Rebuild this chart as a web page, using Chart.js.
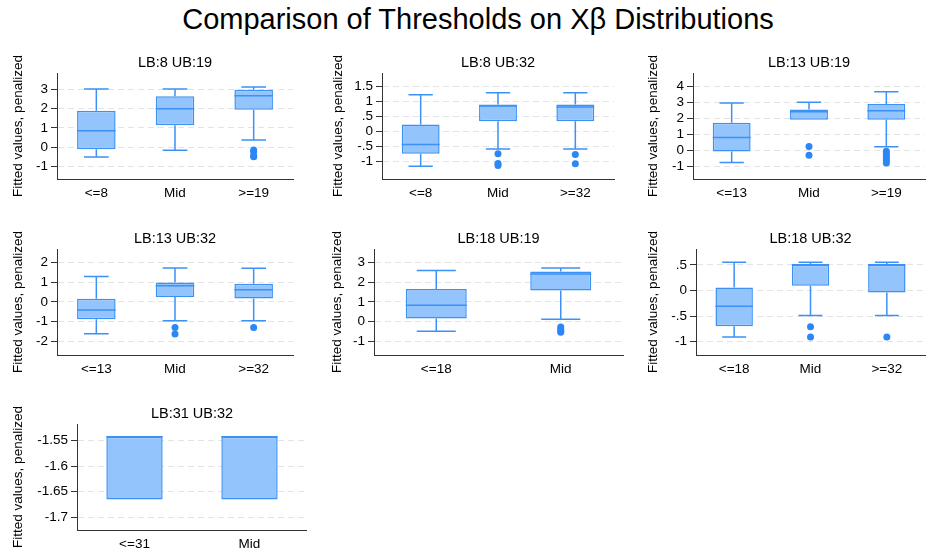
<!DOCTYPE html>
<html>
<head>
<meta charset="utf-8">
<script src="https://cdn.jsdelivr.net/npm/chart.js@4.4.1/dist/chart.umd.min.js"></script>
<style>
  html, body { margin: 0; padding: 0; background: #fff; }
  #page { position: relative; width: 929px; height: 552px; overflow: hidden;
          font-family: "Liberation Sans", Arial, sans-serif; }
  #mainTitle { position: absolute; left: 28px; top: 3px; width: 900px; text-align: center;
               font-size: 29px; color: #000; white-space: nowrap; }
  .panel { position: absolute; }
</style>
</head>
<body>
<div id="page">
  <div id="mainTitle">Comparison of Thresholds on Xβ Distributions</div>
</div>
<script>
// Box-plot summaries, one entry per panel
const panelTitles = ["LB:8 UB:19", "LB:8 UB:32", "LB:13 UB:19",
                     "LB:13 UB:32", "LB:18 UB:19", "LB:18 UB:32", "LB:31 UB:32"];
const categories = [
  ["<=8", "Mid", ">=19"], ["<=8", "Mid", ">=32"], ["<=13", "Mid", ">=19"],
  ["<=13", "Mid", ">=32"], ["<=18", "Mid"], ["<=18", "Mid", ">=32"], ["<=31", "Mid"]
];
const whiskerLow = [
  [-0.52, -0.17, 0.37], [-1.17, -0.59, -0.59], [-0.77, 1.92, 0.22],
  [-1.62, -0.96, -0.96], [-0.49, 0.12], [-0.91, -0.49, -0.49], [-1.665, -1.665]
];
const quartile1 = [
  [-0.12, 1.13, 1.94], [-0.75, 0.34, 0.34], [-0.08, 1.92, 1.92],
  [-0.88, 0.24, 0.17], [0.15, 1.58], [-0.70, 0.09, -0.04], [-1.665, -1.665]
];
const medians = [
  [0.85, 1.99, 2.67], [-0.44, 0.85, 0.82], [0.81, 2.42, 2.49],
  [-0.42, 0.82, 0.61], [0.83, 2.41], [-0.31, 0.5, 0.5], [-1.543, -1.543]
];
const quartile3 = [
  [1.89, 2.64, 2.98], [0.23, 0.90, 0.90], [1.73, 2.57, 2.91],
  [0.15, 0.98, 0.92], [1.65, 2.54], [0.06, 0.5, 0.5], [-1.543, -1.543]
];
const whiskerHigh = [
  [3.02, 3.02, 3.12], [1.23, 1.30, 1.30], [2.97, 3.03, 3.68],
  [1.29, 1.71, 1.70], [2.59, 2.72], [0.55, 0.55, 0.55], [-1.543, -1.543]
];
const outliers = [
  [[], [], [-0.15, -0.25, -0.45, -0.5]],
  [[], [-0.75, -1.08, -1.15], [-0.78, -1.09]],
  [[], [0.24, -0.3], [-0.05, -0.2, -0.35, -0.5, -0.65, -0.8]],
  [[], [-1.3, -1.63], [-1.3]],
  [[], [-0.28, -0.38, -0.48, -0.55]],
  [[], [-0.71, -0.91], [-0.91]],
  [[], []]
];
const yTicks = [
  [-1, 0, 1, 2, 3], [-1, -0.5, 0, 0.5, 1, 1.5], [-1, 0, 1, 2, 3, 4],
  [-2, -1, 0, 1, 2], [-1, 0, 1, 2, 3], [-1, -0.5, 0, 0.5], [-1.7, -1.65, -1.6, -1.55]
];
const yRanges = [
  [-1.66, 3.85], [-1.6, 1.96], [-1.8, 4.86],
  [-2.7, 2.68], [-1.7, 3.68], [-1.26, 0.81], [-1.7245, -1.518]
];

// Where each panel sits on the page (left edge, plot area edges)
const frames = [
  { left: 10,  plotLeft: 57,  plotRight: 297, plotTop: 73,  plotBottom: 179 },
  { left: 330, plotLeft: 382, plotRight: 618, plotTop: 73,  plotBottom: 179 },
  { left: 645, plotLeft: 693, plotRight: 929, plotTop: 73,  plotBottom: 179 },
  { left: 10,  plotLeft: 57,  plotRight: 297, plotTop: 249, plotBottom: 355 },
  { left: 329, plotLeft: 374, plotRight: 627, plotTop: 249, plotBottom: 355 },
  { left: 645, plotLeft: 696, plotRight: 929, plotTop: 249, plotBottom: 355 },
  { left: 10,  plotLeft: 77,  plotRight: 307, plotTop: 424, plotBottom: 530 }
];

const FONT = "'Liberation Sans', Arial, sans-serif";
const boxFill = "#93c4fc";
const boxLine = "#3b91f6";
const dotColor = "#2b87f5";
const axisColor = "#333333";
const TOP_SPACE = 28;
const X_AXIS_H = 26;

// Stata style numbers: drop the leading zero (.5, -.5)
function fmt(v) {
  const s = String(Math.round(v * 1000) / 1000);
  return s.replace(/^(-?)0\./, "$1.");
}

// whiskers, caps and median lines, placed with the chart's own scales
const boxWhiskers = {
  id: "boxWhiskers",
  afterDatasetsDraw(chart, args, opts) {
    const k = opts.panel;
    const meta = chart.getDatasetMeta(0);
    const y = chart.scales.y;
    const ctx = chart.ctx;
    ctx.save();
    ctx.strokeStyle = boxLine;
    ctx.lineWidth = 1.5;
    meta.data.forEach((bar, i) => {
      const x = bar.x, half = bar.width / 2, cap = bar.width * 0.32;
      const yLo = y.getPixelForValue(whiskerLow[k][i]);
      const yQ1 = y.getPixelForValue(quartile1[k][i]);
      const yMed = y.getPixelForValue(medians[k][i]);
      const yQ3 = y.getPixelForValue(quartile3[k][i]);
      const yHi = y.getPixelForValue(whiskerHigh[k][i]);
      ctx.beginPath();
      if (yHi < yQ3 - 0.5) {
        ctx.moveTo(x, yQ3); ctx.lineTo(x, yHi);
        ctx.moveTo(x - cap, yHi); ctx.lineTo(x + cap, yHi);
      }
      if (yLo > yQ1 + 0.5) {
        ctx.moveTo(x, yQ1); ctx.lineTo(x, yLo);
        ctx.moveTo(x - cap, yLo); ctx.lineTo(x + cap, yLo);
      }
      ctx.moveTo(x - half, yMed); ctx.lineTo(x + half, yMed);
      ctx.stroke();
    });
    ctx.restore();
  }
};

// panel heading centred over the plot area
const panelHeading = {
  id: "panelHeading",
  afterDraw(chart, args, opts) {
    const a = chart.chartArea;
    const ctx = chart.ctx;
    ctx.save();
    ctx.font = "14.5px " + FONT;
    ctx.fillStyle = "#000";
    ctx.textAlign = "center";
    ctx.textBaseline = "middle";
    ctx.fillText(opts.text, (a.left + a.right) / 2, a.top - 10);
    ctx.restore();
  }
};

const page = document.getElementById("page");

frames.forEach((f, k) => {
  const top = f.plotTop - TOP_SPACE;
  const div = document.createElement("div");
  div.className = "panel";
  div.style.left = f.left + "px";
  div.style.top = top + "px";
  div.style.width = (f.plotRight - f.left) + "px";
  div.style.height = (f.plotBottom - top + X_AXIS_H) + "px";
  const canvas = document.createElement("canvas");
  div.appendChild(canvas);
  page.appendChild(div);

  const cats = categories[k];
  const points = [];
  outliers[k].forEach((vals, i) => vals.forEach(v => points.push({ x: cats[i], y: v })));

  new Chart(canvas, {
    type: "bar",
    data: {
      labels: cats,
      datasets: [
        {
          label: "box",
          data: cats.map((c, i) => [quartile1[k][i], quartile3[k][i]]),
          backgroundColor: boxFill,
          borderColor: boxLine,
          borderWidth: 1.5,
          borderSkipped: false,
          categoryPercentage: 1,
          barPercentage: 0.49
        },
        {
          type: "line",
          label: "outliers",
          data: points,
          showLine: false,
          pointRadius: 3.5,
          pointBackgroundColor: dotColor,
          pointBorderWidth: 0
        }
      ]
    },
    options: {
      responsive: true,
      maintainAspectRatio: false,
      animation: false,
      layout: { padding: { top: TOP_SPACE, right: 0, bottom: 0, left: 0 } },
      plugins: {
        legend: { display: false },
        tooltip: { enabled: false },
        boxWhiskers: { panel: k },
        panelHeading: { text: panelTitles[k] }
      },
      scales: {
        x: {
          afterFit(scale) { scale.height = X_AXIS_H; },
          grid: { display: false, drawTicks: false },
          border: { display: true, color: axisColor, width: 1 },
          ticks: { color: "#000", font: { family: FONT, size: 13.5 }, padding: 6, maxRotation: 0 }
        },
        y: {
          min: yRanges[k][0],
          max: yRanges[k][1],
          afterFit(scale) { scale.width = f.plotLeft - f.left; },
          afterBuildTicks(scale) { scale.ticks = yTicks[k].map(v => ({ value: v })); },
          grid: { color: "#e4e4e4", lineWidth: 1, drawTicks: true, tickLength: 6,
                  tickColor: axisColor, tickWidth: 1 },
          border: { display: true, color: axisColor, width: 1, dash: [6, 4] },
          ticks: { color: "#000", font: { family: FONT, size: 13.5 }, padding: 3,
                   callback: v => fmt(v) },
          title: { display: true, text: "Fitted values, penalized", color: "#000",
                   font: { family: FONT, size: 13.5 }, padding: { top: 0, bottom: 0 } }
        }
      }
    },
    plugins: [boxWhiskers, panelHeading]
  });
});
</script>
</body>
</html>
